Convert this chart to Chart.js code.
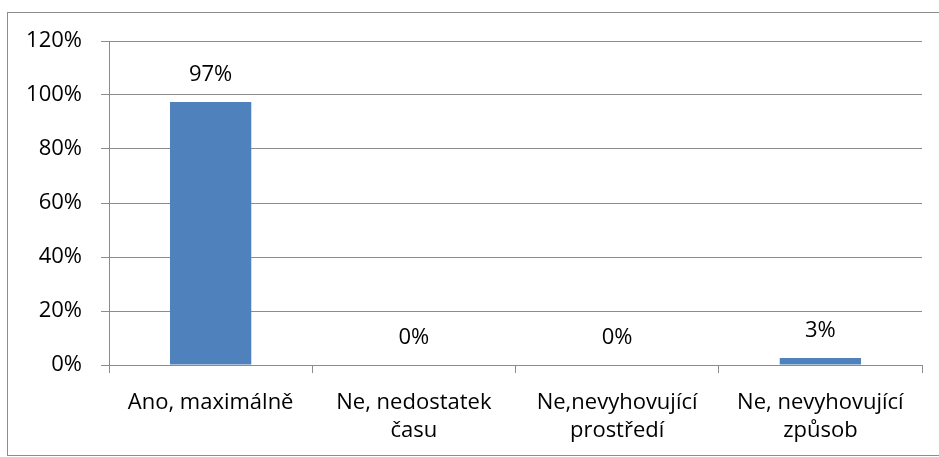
<!DOCTYPE html>
<html><head><meta charset="utf-8">
<script src="https://cdn.jsdelivr.net/npm/chart.js@4"></script>
<style>html,body{margin:0;padding:0;background:#fff}#w{width:939px;height:457px;position:relative}</style>
</head><body><div id="w"><canvas id="c" width="939" height="457"></canvas></div>
<script>
const categories = [["Ano, maximálně"], ["Ne, nedostatek", "času"], ["Ne,nevyhovující", "prostředí"], ["Ne, nevyhovující", "způsob"]];
const values = [0.974, 0, 0, 0.026];
const yTicks = [0, 0.2, 0.4, 0.6, 0.8, 1.0, 1.2];
const FONT = "'Open Sans', 'Liberation Sans', sans-serif";
const FS = 22;

const deco = {
  id: 'deco',
  beforeDraw(chart) {
    const ctx = chart.ctx;
    ctx.save();
    ctx.fillStyle = '#fff';
    ctx.fillRect(0, 0, chart.width, chart.height);
    ctx.strokeStyle = '#8c8c8c';
    ctx.lineWidth = 1;
    ctx.strokeRect(7.5, 12.5, 960, 443);
    ctx.restore();
  },
  afterDatasetsDraw(chart) {
    const ctx = chart.ctx;
    const meta = chart.getDatasetMeta(0);
    ctx.save();
    ctx.fillStyle = '#000';
    ctx.font = FS + "px " + FONT;
    ctx.textAlign = 'center';
    ctx.textBaseline = 'middle';
    meta.data.forEach((bar, i) => {
      ctx.fillText(Math.round(values[i] * 100) + '%', bar.x, bar.y - 27);
    });
    ctx.restore();
  }
};

new Chart(document.getElementById('c'), {
  type: 'bar',
  data: {
    labels: categories,
    datasets: [{ data: values, backgroundColor: '#4F81BD', barPercentage: 0.4, categoryPercentage: 1.0 }]
  },
  options: {
    responsive: false,
    animation: false,
    layout: { padding: { left: 0, top: 41, right: 17, bottom: 0 } },
    plugins: { legend: { display: false }, tooltip: { enabled: false } },
    scales: {
      y: {
        min: 0, max: 1.2,
        afterBuildTicks(scale) { scale.ticks = yTicks.map(v => ({ value: v })); },
        afterFit(scale) { scale.width = 109; },
        ticks: { callback: v => Math.round(v * 100) + '%', color: '#000', font: { family: FONT, size: FS }, padding: 19 },
        grid: { color: '#8c8c8c', tickLength: 8, lineWidth: 1 },
        border: { color: '#8c8c8c' }
      },
      x: {
        afterFit(scale) { scale.height = 92; },
        ticks: { color: '#000', font: { family: FONT, size: FS, lineHeight: 1.3 }, padding: 15, maxRotation: 0, autoSkip: false },
        grid: { offset: true, drawOnChartArea: false, color: '#8c8c8c', tickLength: 8 },
        border: { color: '#8c8c8c' }
      }
    }
  },
  plugins: [deco]
});
</script></body></html>
